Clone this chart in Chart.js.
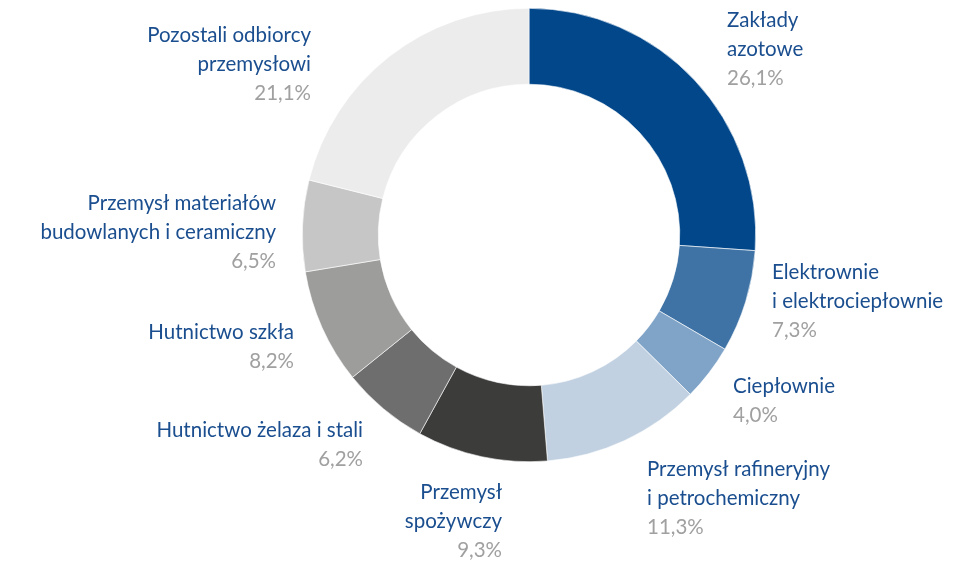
<!DOCTYPE html>
<html>
<head>
<meta charset="utf-8">
<script src="https://cdn.jsdelivr.net/npm/chart.js@4"></script>
<style>
  html, body { margin: 0; padding: 0; background: #ffffff; }
  #wrap { position: relative; width: 966px; height: 565px; }
</style>
</head>
<body>
<div id="wrap"><canvas id="c" width="966" height="565"></canvas></div>
<script>
// ---- data ----
const categories = [
  ["Zakłady", "azotowe"],
  ["Elektrownie", "i elektrociepłownie"],
  ["Ciepłownie"],
  ["Przemysł rafineryjny", "i petrochemiczny"],
  ["Przemysł", "spożywczy"],
  ["Hutnictwo żelaza i stali"],
  ["Hutnictwo szkła"],
  ["Przemysł materiałów", "budowlanych i ceramiczny"],
  ["Pozostali odbiorcy", "przemysłowi"]
];
const shares = [26.1, 7.3, 4.0, 11.3, 9.3, 6.2, 8.2, 6.5, 21.1];
const shareLabels = ["26,1%", "7,3%", "4,0%", "11,3%", "9,3%", "6,2%", "8,2%", "6,5%", "21,1%"];

// ---- styles / layout ----
const sliceColors = ["#02478a", "#3f73a5", "#80a4c8", "#c1d1e1", "#3c3c3b", "#6e6e6e", "#9d9d9c", "#c6c6c6", "#ececec"];
// label block anchors relative to the doughnut centre: [dx, dy of first baseline, align]
const labelLayout = [
  [198, -208, "left"],
  [243, 44, "left"],
  [204, 158, "left"],
  [118, 241, "left"],
  [-27, 264, "right"],
  [-166, 202, "right"],
  [-235, 104, "right"],
  [-253, -25, "right"],
  [-218, -193, "right"]
];
const LINE_H = 29;
const FONT = "20.5px Lato";

const labelPlugin = {
  id: "sliceLabels",
  afterDraw(chart) {
    const ctx = chart.ctx;
    const arc = chart.getDatasetMeta(0).data[0];
    const cx = arc.x, cy = arc.y;
    ctx.save();
    ctx.font = FONT;
    ctx.textBaseline = "alphabetic";
    categories.forEach((lines, i) => {
      const [dx, dy, align] = labelLayout[i];
      ctx.textAlign = align;
      let y = cy + dy;
      ctx.fillStyle = "#1a4e8f";
      lines.forEach(t => { ctx.fillText(t, cx + dx, y); y += LINE_H; });
      ctx.fillStyle = "#a0a0a0";
      ctx.fillText(shareLabels[i], cx + dx, y);
    });
    ctx.restore();
  }
};

new Chart(document.getElementById("c"), {
  type: "doughnut",
  data: {
    labels: categories.map(l => l.join(" ")),
    datasets: [{
      data: shares,
      backgroundColor: sliceColors,
      borderColor: "#ffffff",
      borderWidth: 0.6
    }]
  },
  options: {
    responsive: false,
    animation: false,
    cutout: "66.5%",
    layout: { padding: { left: 302, right: 210, top: 8, bottom: 103 } },
    plugins: { legend: { display: false }, tooltip: { enabled: false } }
  },
  plugins: [labelPlugin]
});
</script>
</body>
</html>
